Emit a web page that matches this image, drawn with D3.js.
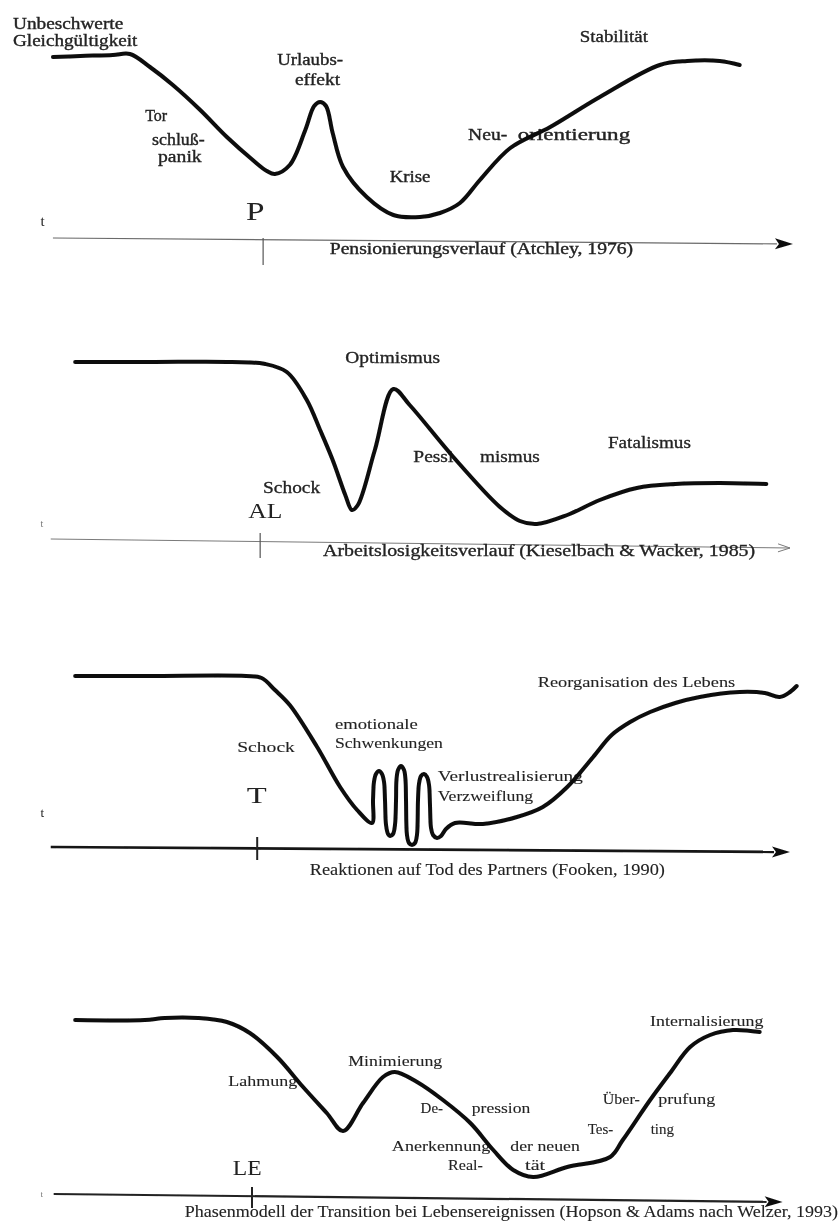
<!DOCTYPE html>
<html>
<head>
<meta charset="utf-8">
<script src="https://cdn.jsdelivr.net/npm/d3@7"></script>
<style>
  body { margin: 0; background: #fff; }
  text { font-family: "Liberation Serif", "DejaVu Serif", serif; fill: #222; }
</style>
</head>
<body>
<script>
// ---- data: time (0..100) and level (0..100) ----

// Pensionierungsverlauf (Atchley, 1976)
const pensionT = [0.4, 4.1, 8.5, 10.8, 13.5, 16.6, 20.3, 23.9, 27.4, 29.3, 30.4, 32.4, 34.5, 35.7, 36.5, 37.3, 38.2, 39.6, 42.8, 46.4, 50, 52.7, 55.4, 58.1, 62.2, 67.6, 74.3, 82.4, 86.1, 90.5, 93.2]
const pensionLevel = [91.5, 92, 92.5, 93, 86.5, 77.5, 65, 51.5, 40, 34.5, 33, 37.5, 55, 67, 69, 67, 53.5, 36.5, 21.5, 12.5, 11.5, 13.5, 18.5, 30, 46, 56.5, 71.5, 87.5, 89.5, 89.5, 87.5]
const pensionLabels = [
    ["Unbeschwerte", -5, 9.9, 105.5],
    ["Gleichgültigkeit", -5, 11.8, 97],
    ["Tor", 13.1, 15.6, 59.5],
    ["schluß-", 13.8, 20.9, 47.5],
    ["panik", 14.6, 20.5, 39],
    ["Urlaubs-", 30.7, 39.6, 87.5],
    ["effekt", 33.1, 39.2, 77.5],
    ["Krise", 45.9, 51.4, 29],
    ["Neu-", 56.5, 61.8, 50],
    ["orientierung", 63.2, 78.4, 50],
    ["Stabilität", 71.6, 80.8, 99]
]

// Arbeitslosigkeitsverlauf (Kieselbach & Wacker, 1985)
const jobT = [3.4, 13.5, 24.6, 29.1, 32, 34.7, 36.5, 38.2, 39.9, 40.8, 41.6, 43.9, 46.4, 48.6, 54.5, 60.8, 63.5, 65.8, 69.9, 74.3, 79.3, 84.5, 90.5, 96.8]
const jobLevel = [89, 89, 89, 88, 84, 70, 55, 40, 22.5, 15, 17.5, 45, 75.5, 67.5, 41.5, 16.5, 9.5, 8, 12.5, 20, 26, 28, 28.5, 28]
const jobLabels = [
    ["Optimismus", 39.9, 52.7, 88.5],
    ["Pessi", 49.1, 54.5, 39],
    ["mismus", 58.1, 66.2, 39],
    ["Fatalismus", 75.4, 86.6, 46],
    ["Schock", 28.8, 36.5, 23.5]
]

// Reaktionen auf Tod des Partners (Fooken, 1990)
const lossT = [3.4, 13.5, 26.5, 28.6, 30.4, 32.4, 36.1, 39.2, 41.5, 43.51, 43.65, 43.78, 44.05, 44.46, 44.86, 45.14, 45.27, 45.41, 45.68, 45.95, 46.35, 46.62, 46.76, 46.82, 47.03, 47.43, 47.84, 48.04, 48.11, 48.24, 48.51, 48.92, 49.32, 49.59, 49.73, 49.86, 50.14, 50.54, 50.95, 51.22, 51.35, 51.49, 51.76, 52.3, 52.84, 53.51, 54.73, 58.5, 63.1, 66.6, 69.9, 73.4, 75.9, 78.4, 81.1, 84.5, 87.8, 93.2, 96.6, 98.6, 100, 100.9]
const lossLevel = [87, 87, 87, 86, 80, 72.5, 51.5, 31.5, 20, 13.5, 25, 34, 38, 39.5, 38, 34, 25, 12.5, 8, 7, 8, 12.5, 25, 35, 40, 42, 40, 35, 25, 7.5, 3.5, 2.5, 3.5, 7.5, 25, 33, 37, 38, 36.5, 32.5, 22.5, 11, 7.5, 6, 7, 10.5, 13.5, 13, 16.5, 21.5, 31.5, 46.5, 57.5, 64, 69, 73.5, 76.5, 79, 78.5, 76.5, 79, 82]
const lossLabels = [
    ["Schock", 25.3, 33.1, 49],
    ["emotionale", 38.5, 49.7, 60.5],
    ["Schwenkungen", 38.5, 53.1, 51],
    ["Verlustrealisierung", 52.4, 72, 34.5],
    ["Verzweiflung", 52.4, 65.3, 24.5],
    ["Reorganisation des Lebens", 65.9, 92.6, 81.5]
]

// Phasenmodell der Transition (Hopson & Adams nach Welzer, 1993)
const phaseT = [3.4, 12.8, 15.5, 20, 23.9, 27, 30.7, 34.2, 37.4, 39.6, 42.3, 45, 46.6, 49.6, 53.1, 56.8, 59.9, 62.6, 65.3, 69.9, 75.7, 77.4, 81.1, 83.8, 86.5, 89.2, 92.3, 95.9]
const phaseLevel = [87.5, 87.5, 88.5, 88.5, 86.5, 81, 69, 54, 41, 32, 46, 59, 61.5, 56.5, 47.5, 36, 22.5, 12.5, 9, 14, 19, 27.5, 47.5, 61, 74, 80, 82.5, 81.5]
const phaseLabels = [
    ["Lahmung", 24.1, 33.4, 54.5],
    ["Minimierung", 40.3, 53, 64.5],
    ["De-", 50.3, 52.9, 41],
    ["pression", 57, 64.9, 41],
    ["Anerkennung", 46.2, 59.5, 22],
    ["der neuen", 62.2, 71.6, 22],
    ["Real-", 53.8, 58.5, 12.5],
    ["tät", 64.2, 66.9, 12.5],
    ["Über-", 74.7, 79.7, 45.5],
    ["prufung", 82.2, 89.9, 45.5],
    ["Tes-", 72.7, 76.1, 30.5],
    ["ting", 81.5, 84, 30.5],
    ["Internalisierung", 81.1, 96.4, 84.5]
]

// event markers on the time axis: [letter, t0, t1, level, tick t]
const eventMarks = [["P", 26.5, 29, 10, 28.8], ["AL", 26.8, 31.4, 11, 28.4], ["T", 26.6, 29.3, 23.5, 28], ["LE", 24.7, 28.6, 10, 27.3]]
// captions: [text, t0, t1, level]
const captions = [
    ["Pensionierungsverlauf (Atchley, 1976)", 37.8, 78.8, -7],
    ["Arbeitslosigkeitsverlauf (Kieselbach & Wacker, 1985)", 36.9, 95.3, -8],
    ["Reaktionen auf Tod des Partners (Fooken, 1990)", 35.1, 83.1, -12.5],
    ["Phasenmodell der Transition bei Lebensereignissen (Hopson & Adams nach Welzer, 1993)", 18.2, 106.5, -11]
]
// time axis ends: [t start, level start, t end, level end]
const axisEnds = [[0.4, 1, 100.4, -2], [0.1, 0.5, 100, -4], [0.1, 1.5, 100, -1], [0.5, 0.5, 99, -3.5]]

// ---- layout ----
const width = 839, height = 1232
const panelBase = [240, 540, 850, 1195]
const panelStyle = [
    {axis: "#6a6a6a", axisW: 1.2, head: "filled", labelSize: 16, heavy: 0.35, tLabel: 15, tY: 7, tick: [1, -12.5], mark: 22},
    {axis: "#7a7a7a", axisW: 1, head: "open", labelSize: 16, heavy: 0.3, tLabel: 10, tY: 6.5, tick: [3.5, -9], mark: 19},
    {axis: "#151515", axisW: 2.6, head: "filled", labelSize: 15.5, heavy: 0.1, tLabel: 13, tY: 16.5, tick: [6.5, -5], mark: 21},
    {axis: "#222", axisW: 2.2, head: "filled", labelSize: 15, heavy: 0.1, tLabel: 9, tY: -1, tick: [4, -6.5], mark: 18}
]
const series = [
    [pensionT, pensionLevel, pensionLabels],
    [jobT, jobLevel, jobLabels],
    [lossT, lossLevel, lossLabels],
    [phaseT, phaseLevel, phaseLabels]
]

let svg = d3.select("body").append("svg")
    .attr("width", width)
    .attr("height", height)

svg.append("defs").append("filter").attr("id", "scan")
    .append("feGaussianBlur").attr("stdDeviation", 0.45)

let root = svg.append("g").attr("filter", "url(#scan)")

let x = d3.scaleLinear().domain([0, 100]).range([50, 790])

// grow a text a little and stretch the rest so it fills the given width
const fitText = (sel, size, target) => {
    sel.each(function () {
        let node = d3.select(this)
        node.style("font-size", size + "px")
        let w = this.getComputedTextLength()
        if (w > 0 && w < target) {
            node.style("font-size", (size * Math.sqrt(Math.min(1.3, target / w))) + "px")
            if (this.getComputedTextLength() < target) {
                node.attr("textLength", target).attr("lengthAdjust", "spacingAndGlyphs")
            }
        }
    })
}

// same font size for all labels of a panel; stretch narrow ones, centre wide ones
const placeLabel = (sel, size, x0, target) => {
    sel.each(function () {
        let node = d3.select(this)
        node.style("font-size", size + "px")
        let w = this.getComputedTextLength()
        if (w < target) {
            node.attr("textLength", target).attr("lengthAdjust", "spacingAndGlyphs")
        } else {
            node.attr("x", x0 - (w - target) / 2)
        }
    })
}

series.forEach(([ts, levels, labels], i) => {
    let st = panelStyle[i]
    let y = d3.scaleLinear().domain([0, 100]).range([panelBase[i], panelBase[i] - 200])
    let g = root.append("g")

    // time axis
    let [t0, l0, t1, l1] = axisEnds[i]
    let x1 = x(t0), y1 = y(l0), x2 = x(t1), y2 = y(l1)
    let a = Math.atan2(y2 - y1, x2 - x1)
    let len = st.head === "open" ? 12 : 18, hw = st.head === "open" ? 4 : 5.5
    let bx = x2 - len * Math.cos(a), by = y2 - len * Math.sin(a)
    let px = -Math.sin(a) * hw, py = Math.cos(a) * hw

    g.append("line")
        .attr("x1", x1).attr("y1", y1)
        .attr("x2", st.head === "open" ? x2 : bx + 2 * Math.cos(a)).attr("y2", st.head === "open" ? y2 : by + 2 * Math.sin(a))
        .style("stroke", st.axis).style("stroke-width", st.axisW)

    if (st.head === "open") {
        g.append("polyline")
            .attr("points", [[bx + px, by + py], [x2, y2], [bx - px, by - py]].map(p => p.join(",")).join(" "))
            .style("fill", "none").style("stroke", st.axis).style("stroke-width", 1)
    } else {
        g.append("polygon")
            .attr("points", [[bx + px, by + py], [x2, y2], [bx - px, by - py], [bx + 4 * Math.cos(a), by + 4 * Math.sin(a)]].map(p => p.join(",")).join(" "))
            .style("fill", "#111")
    }

    // event tick + letter
    let [mark, m0, m1, ml, mt] = eventMarks[i]
    g.append("line")
        .attr("x1", x(mt)).attr("x2", x(mt))
        .attr("y1", y(st.tick[0])).attr("y2", y(st.tick[1]))
        .style("stroke", i >= 2 ? "#222" : "#555")
        .style("stroke-width", i >= 2 ? 2 : 1.2)

    g.append("text")
        .attr("x", x(m0)).attr("y", y(ml))
        .text(mark)
        .call(fitText, st.mark, x(m1) - x(m0))

    g.append("text")
        .attr("x", x(-1.3)).attr("y", y(st.tY))
        .style("font-size", st.tLabel + "px")
        .style("fill", i === 1 || i === 3 ? "#777" : "#222")
        .text("t")

    // caption under the axis
    let [cap, c0, c1, cl] = captions[i]
    g.append("text")
        .attr("x", x(c0)).attr("y", y(cl))
        .text(cap)
        .call(fitText, 14, x(c1) - x(c0))
        .style("stroke", "#222").style("stroke-width", st.heavy)

    // phase labels
    g.selectAll("text.phase")
        .data(labels)
        .enter()
        .append("text")
        .attr("class", "phase")
        .attr("x", d => x(d[1])).attr("y", d => y(d[3]))
        .text(d => d[0])
        .each(function (d) { d3.select(this).call(placeLabel, st.labelSize, x(d[1]), x(d[2]) - x(d[1])) })
        .style("stroke", "#222").style("stroke-width", st.heavy)

    // the course itself
    let line = d3.line()
        .x(d => x(d[0]))
        .y(d => y(d[1]))
        .curve(d3.curveCatmullRom.alpha(0.5))

    g.append("path")
        .attr("d", line(ts.map((t, k) => [t, levels[k]])))
        .style("fill", "none")
        .style("stroke", "#0d0d0d")
        .style("stroke-width", 4)
        .style("stroke-linecap", "round")
        .style("stroke-linejoin", "round")
})
</script>
</body>
</html>
